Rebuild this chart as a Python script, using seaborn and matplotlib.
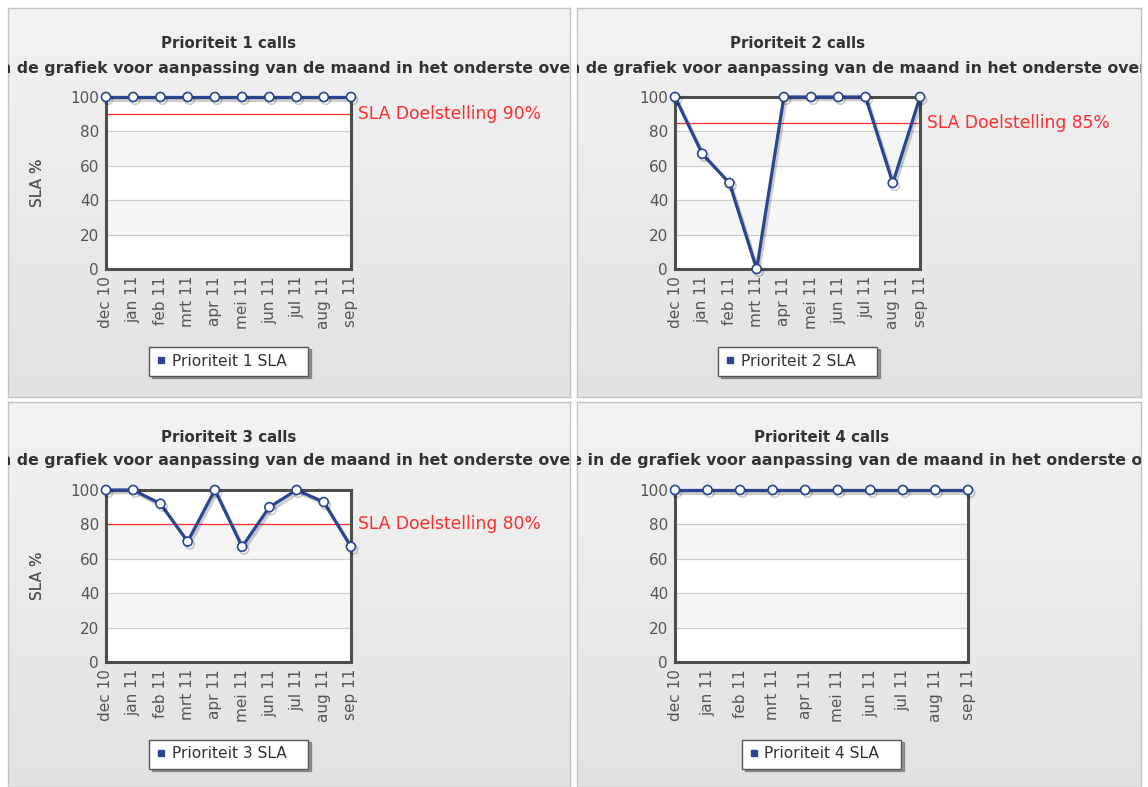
import numpy as np
import pandas as pd
import matplotlib
matplotlib.use("Agg")
import matplotlib.pyplot as plt
import matplotlib.patheffects as pe
from matplotlib.lines import Line2D
from matplotlib.colors import LinearSegmentedColormap
import seaborn as sns

# ---------------- data ----------------
months = ["dec 10", "jan 11", "feb 11", "mrt 11", "apr 11",
          "mei 11", "jun 11", "jul 11", "aug 11", "sep 11"]
p1_sla = [100, 100, 100, 100, 100, 100, 100, 100, 100, 100]
p2_sla = [100, 67, 50, 0, 100, 100, 100, 100, 50, 100]
p3_sla = [100, 100, 92, 70, 100, 67, 90, 100, 93, 67]
p4_sla = [100, 100, 100, 100, 100, 100, 100, 100, 100, 100]
sla_targets = [90, 85, 80, None]
titles = ["Prioriteit 1 calls", "Prioriteit 2 calls", "Prioriteit 3 calls", "Prioriteit 4 calls"]
legend_labels = ["Prioriteit 1 SLA", "Prioriteit 2 SLA", "Prioriteit 3 SLA", "Prioriteit 4 SLA"]
subtitle = "Klik op elke bolle in de grafiek voor aanpassing van de maand in het onderste overzicht"
y_ticks = [0, 20, 40, 60, 80, 100]
series = [p1_sla, p2_sla, p3_sla, p4_sla]

# ---------------- style ----------------
sns.set_style("white")
plt.rcParams["font.family"] = ["DejaVu Sans"]

W, H = 1148, 787
fig = plt.figure(figsize=(W / 100, H / 100), dpi=100)
fig.patch.set_facecolor("white")

def fx(px):
    return px / W

def fy(py):
    return 1 - py / H

panels_px = [(8, 8, 570, 397), (577, 8, 1141, 397), (8, 402, 570, 787), (577, 402, 1141, 787)]
axes_px = [(106, 97, 351, 269), (675, 97, 920, 269), (106, 490, 351, 662), (675, 490, 968, 662)]

navy = "#2a4690"
red = "#ff2d2d"
txt_gray = "#555555"
grad_cmap = LinearSegmentedColormap.from_list("bg", ["#e2e2e2", "#f3f3f3"])
gradient = np.linspace(0, 1, 256).reshape(-1, 1)

for i in range(4):
    x0, y0, x1, y1 = panels_px[i]
    bg = fig.add_axes([fx(x0), fy(y1), (x1 - x0) / W, (y1 - y0) / H], zorder=0)
    bg.imshow(gradient, aspect="auto", cmap=grad_cmap, extent=[0, 1, 0, 1], origin="lower")
    bg.set_xlim(0, 1)
    bg.set_ylim(0, 1)
    bg.set_xticks([])
    bg.set_yticks([])
    for s in bg.spines.values():
        s.set_color("#c4c4c4")
        s.set_linewidth(1)

    ax0, ay0, ax1, ay1 = axes_px[i]
    cx = fx((ax0 + ax1) / 2)
    fig.text(cx, fy(ay0 - 53), titles[i], ha="center", va="center",
             fontsize=10.8, fontweight="bold", color="#333333", zorder=3)
    bg.text(cx, fy(ay0 - 29), subtitle, ha="center", va="center",
            fontsize=11.3, fontweight="bold", color="#333333",
            transform=fig.transFigure, clip_on=True)

    ax = fig.add_axes([fx(ax0), fy(ay1), (ax1 - ax0) / W, (ay1 - ay0) / H], zorder=2)
    ax.set_facecolor("white")
    for k, lo in enumerate(y_ticks[:-1]):
        ax.axhspan(lo, lo + 20, color="white" if k % 2 == 0 else "#f5f5f5", zorder=0, lw=0)
    ax.yaxis.grid(True, color="#cfcfcf", lw=0.9, zorder=1)
    ax.set_axisbelow(True)

    target = sla_targets[i]
    if target is not None:
        ax.axhline(target, color=red, lw=0.9, zorder=3)
        ax.text(1 + 7 / (ax1 - ax0), target, f"SLA Doelstelling {target}%",
                transform=ax.get_yaxis_transform(), ha="left", va="center",
                fontsize=12.3, color=red)

    df = pd.DataFrame({"idx": np.arange(len(months)), "SLA": series[i]})
    sns.lineplot(data=df, x="idx", y="SLA", ax=ax, color=navy, lw=2.3,
                 marker="o", markersize=6.5, markerfacecolor="white",
                 markeredgecolor=navy, markeredgewidth=1.2, clip_on=False,
                 zorder=5, sort=False,
                 path_effects=[pe.SimpleLineShadow(offset=(1.5, -2), alpha=0.2), pe.Normal()])

    ax.set_xlim(0, len(months) - 1)
    ax.set_ylim(0, 100)
    ax.set_xticks(np.arange(len(months)))
    ax.set_xticklabels(months, rotation=90)
    ax.set_yticks(y_ticks)
    ax.tick_params(axis="both", labelsize=11, labelcolor=txt_gray, length=0, pad=5)
    ax.set_xlabel("")
    ax.set_ylabel("SLA %", fontsize=11, color=txt_gray)
    ax.yaxis.set_label_coords((45 - ax0) / (ax1 - ax0), 0.5)
    for s in ax.spines.values():
        s.set_color("#4d4d4d")
        s.set_linewidth(2.2)
        s.set_zorder(4)

    handle = Line2D([], [], marker="s", ls="none", color=navy, markersize=4)
    leg = ax.legend([handle], [legend_labels[i] + "   "], loc="center",
                    bbox_to_anchor=(0.5, -92 / (ay1 - ay0)), frameon=True,
                    fancybox=False, shadow=True, framealpha=1, fontsize=11.2,
                    handlelength=0.6, handletextpad=0.4, borderpad=0.45,
                    borderaxespad=0, edgecolor="#555555")
    leg.get_frame().set_linewidth(1)
    for t in leg.get_texts():
        t.set_color("#333333")

fig.savefig("out.png", dpi=100)
